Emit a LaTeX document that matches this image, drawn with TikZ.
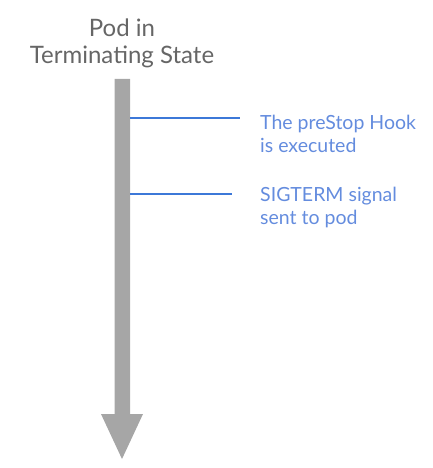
\documentclass[tikz,border=0pt]{standalone}
\usepackage{fontspec}
\setmainfont{Lato}
\definecolor{shaftgray}{RGB}{166,166,166}
\definecolor{titlegray}{RGB}{102,102,102}
\definecolor{lineblue}{RGB}{60,120,216}
\definecolor{textblue}{RGB}{100,140,222}
\begin{document}
\begin{tikzpicture}[x=1pt,y=-1pt,
  titlestyle/.style={text=titlegray,align=center,inner sep=0pt,font=\fontsize{24}{27}\selectfont},
  eventtext/.style={text=textblue,align=left,inner sep=0pt,anchor=west,font=\fontsize{19.5}{23}\selectfont},
  eventline/.style={draw=lineblue,line width=1.5pt}]
\useasboundingbox (0,0) rectangle (432,468);
\fill[shaftgray] (114.5,79) -- (130,79) -- (130,414) -- (143,414) -- (122,459) -- (101,414) -- (114.5,414) -- cycle;
\node[titlestyle] (title) at (122,43.5) {Pod in\\Terminating State};
\coordinate (s1) at (130,118);
\coordinate (s2) at (130,194);
\coordinate (e1) at (240,118);
\coordinate (e2) at (232,194);
\draw[eventline] (s1) -- (e1);
\draw[eventline] (s2) -- (e2);
\node[eventtext] (t1) at (260,133.5) {The preStop Hook\\is executed};
\node[eventtext] (t2) at (260,207.5) {SIGTERM signal\\sent to pod};
\end{tikzpicture}
\end{document}
